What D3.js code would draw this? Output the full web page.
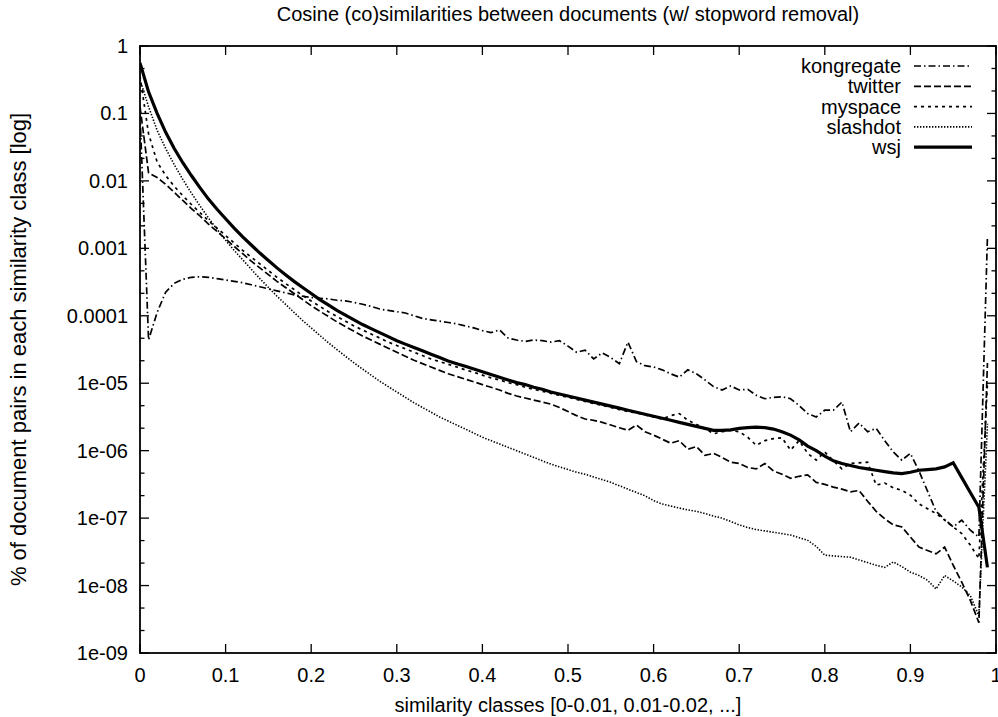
<!DOCTYPE html>
<html>
<head>
<meta charset="utf-8">
<script src="https://cdn.jsdelivr.net/npm/d3@7/dist/d3.min.js"></script>
<style>
  body { margin: 0; background: #fff; }
  svg text { font-family: "Liberation Sans", Arial, Helvetica, sans-serif; fill: #000; }
</style>
</head>
<body>
<svg id="chart" width="998" height="717"></svg>
<script>
// similarity class start values 0, 0.01, ... 0.99 (one class per 0.01)
var classes = d3.range(100).map(function (i) { return i / 100; });

// share of document pairs per similarity class
var kongregate = [0.1, 4.37e-5, 1.12e-4, 2.24e-4, 3.02e-4, 3.47e-4, 3.72e-4, 3.80e-4, 3.72e-4, 3.55e-4,
  3.39e-4, 3.24e-4, 3.09e-4, 2.88e-4, 2.69e-4, 2.51e-4, 2.34e-4, 2.19e-4, 2.04e-4, 1.95e-4,
  1.86e-4, 1.82e-4, 1.78e-4, 1.70e-4, 1.66e-4, 1.58e-4, 1.48e-4, 1.38e-4, 1.26e-4, 1.20e-4,
  1.15e-4, 1.10e-4, 1.00e-4, 9.12e-5, 8.71e-5, 8.32e-5, 7.94e-5, 7.59e-5, 7.08e-5, 6.61e-5,
  6.03e-5, 5.62e-5, 6.17e-5, 4.68e-5, 4.37e-5, 4.17e-5, 4.37e-5, 4.27e-5, 4.07e-5, 4.27e-5,
  3.55e-5, 2.88e-5, 3.09e-5, 2.29e-5, 2.82e-5, 2.40e-5, 1.95e-5, 4.07e-5, 2.09e-5, 1.82e-5,
  1.74e-5, 1.58e-5, 1.38e-5, 1.23e-5, 1.58e-5, 1.38e-5, 1.12e-5, 8.91e-6, 7.94e-6, 9.12e-6,
  7.94e-6, 8.13e-6, 6.61e-6, 5.89e-6, 6.17e-6, 6.31e-6, 5.89e-6, 4.68e-6, 3.55e-6, 3.16e-6,
  3.98e-6, 3.98e-6, 5.25e-6, 1.91e-6, 2.57e-6, 1.91e-6, 2.14e-6, 1.41e-6, 9.55e-7, 7.24e-7,
  9.12e-7, 5.01e-7, 2.51e-7, 1.26e-7, 9.55e-8, 7.41e-8, 9.33e-8, 6.61e-8, 5.25e-8, 1.48e-3];

var twitter = [0.126, 1.32e-2, 1.12e-2, 8.91e-3, 6.76e-3, 5.13e-3, 3.89e-3, 3.02e-3, 2.29e-3, 1.78e-3,
  1.38e-3, 1.07e-3, 8.32e-4, 6.46e-4, 5.13e-4, 4.07e-4, 3.24e-4, 2.63e-4, 2.14e-4, 1.74e-4,
  1.41e-4, 1.17e-4, 9.77e-5, 8.13e-5, 6.92e-5, 5.89e-5, 5.01e-5, 4.37e-5, 3.80e-5, 3.31e-5,
  2.88e-5, 2.51e-5, 2.19e-5, 1.95e-5, 1.74e-5, 1.55e-5, 1.38e-5, 1.26e-5, 1.15e-5, 1.05e-5,
  9.55e-6, 8.71e-6, 7.94e-6, 7.08e-6, 6.46e-6, 6.03e-6, 5.62e-6, 5.25e-6, 4.90e-6, 4.37e-6,
  3.80e-6, 3.31e-6, 2.95e-6, 2.82e-6, 2.63e-6, 2.40e-6, 2.19e-6, 2.00e-6, 2.40e-6, 1.91e-6,
  1.70e-6, 1.48e-6, 1.29e-6, 1.41e-6, 1.05e-6, 1.15e-6, 8.51e-7, 9.12e-7, 7.94e-7, 6.76e-7,
  6.46e-7, 5.62e-7, 5.37e-7, 6.46e-7, 5.01e-7, 4.47e-7, 3.89e-7, 4.17e-7, 4.37e-7, 3.39e-7,
  3.16e-7, 2.88e-7, 2.69e-7, 2.45e-7, 2.57e-7, 1.78e-7, 1.26e-7, 9.77e-8, 7.94e-8, 7.41e-8,
  5.25e-8, 3.72e-8, 3.31e-8, 2.95e-8, 3.72e-8, 2.00e-8, 1.12e-8, 6.03e-9, 2.82e-9, 2.00e-5];

var myspace = [0.355, 5.01e-2, 1.91e-2, 1.20e-2, 8.32e-3, 6.03e-3, 4.47e-3, 3.39e-3, 2.57e-3, 2.00e-3,
  1.55e-3, 1.20e-3, 9.33e-4, 7.41e-4, 5.89e-4, 4.68e-4, 3.72e-4, 3.02e-4, 2.45e-4, 2.00e-4,
  1.66e-4, 1.38e-4, 1.15e-4, 9.77e-5, 8.32e-5, 7.08e-5, 6.17e-5, 5.37e-5, 4.68e-5, 4.07e-5,
  3.63e-5, 3.24e-5, 2.88e-5, 2.57e-5, 2.29e-5, 2.09e-5, 1.91e-5, 1.74e-5, 1.58e-5, 1.45e-5,
  1.32e-5, 1.20e-5, 1.12e-5, 1.02e-5, 9.55e-6, 8.71e-6, 8.13e-6, 7.59e-6, 7.08e-6, 6.61e-6,
  6.17e-6, 5.75e-6, 5.37e-6, 5.01e-6, 4.68e-6, 4.37e-6, 4.07e-6, 3.80e-6, 3.63e-6, 3.39e-6,
  3.16e-6, 2.95e-6, 3.31e-6, 3.55e-6, 2.82e-6, 2.45e-6, 2.14e-6, 1.78e-6, 1.91e-6, 2.00e-6,
  1.91e-6, 1.58e-6, 1.20e-6, 1.41e-6, 1.51e-6, 1.55e-6, 1.02e-6, 1.41e-6, 9.12e-7, 7.24e-7,
  9.55e-7, 7.08e-7, 5.37e-7, 6.46e-7, 6.61e-7, 6.76e-7, 3.09e-7, 3.31e-7, 2.82e-7, 2.57e-7,
  2.19e-7, 1.62e-7, 1.38e-7, 1.17e-7, 9.33e-8, 7.41e-8, 5.89e-8, 3.98e-8, 2.51e-8, 1.00e-5];

var slashdot = [0.316, 0.126, 5.62e-2, 3.02e-2, 1.74e-2, 1.05e-2, 6.61e-3, 4.27e-3, 2.82e-3, 1.91e-3,
  1.32e-3, 9.33e-4, 6.76e-4, 4.90e-4, 3.55e-4, 2.63e-4, 1.95e-4, 1.48e-4, 1.12e-4, 8.51e-5,
  6.61e-5, 5.13e-5, 3.98e-5, 3.16e-5, 2.51e-5, 2.00e-5, 1.62e-5, 1.32e-5, 1.07e-5, 8.91e-6,
  7.41e-6, 6.17e-6, 5.13e-6, 4.37e-6, 3.72e-6, 3.16e-6, 2.75e-6, 2.40e-6, 2.09e-6, 1.82e-6,
  1.58e-6, 1.41e-6, 1.26e-6, 1.12e-6, 1.00e-6, 8.91e-7, 7.94e-7, 7.08e-7, 6.31e-7, 5.75e-7,
  5.25e-7, 4.79e-7, 4.47e-7, 4.07e-7, 3.72e-7, 3.39e-7, 3.02e-7, 2.69e-7, 2.40e-7, 2.14e-7,
  1.82e-7, 1.62e-7, 1.51e-7, 1.41e-7, 1.32e-7, 1.26e-7, 1.17e-7, 1.07e-7, 1.00e-7, 8.91e-8,
  7.94e-8, 7.24e-8, 6.76e-8, 6.46e-8, 6.17e-8, 5.89e-8, 5.62e-8, 5.13e-8, 4.68e-8, 3.80e-8,
  2.82e-8, 2.75e-8, 2.69e-8, 2.63e-8, 2.40e-8, 2.19e-8, 2.00e-8, 1.86e-8, 2.24e-8, 1.91e-8,
  1.58e-8, 1.41e-8, 1.20e-8, 8.91e-9, 1.41e-8, 1.17e-8, 9.55e-9, 7.08e-9, 3.55e-9, 2.51e-6];

var wsj = [0.562, 0.209, 0.1, 5.25e-2, 3.02e-2, 1.86e-2, 1.20e-2, 7.94e-3, 5.37e-3, 3.80e-3,
  2.75e-3, 2.00e-3, 1.48e-3, 1.12e-3, 8.51e-4, 6.61e-4, 5.13e-4, 4.07e-4, 3.24e-4, 2.63e-4,
  2.14e-4, 1.74e-4, 1.45e-4, 1.20e-4, 1.02e-4, 8.71e-5, 7.41e-5, 6.46e-5, 5.62e-5, 4.90e-5,
  4.27e-5, 3.80e-5, 3.39e-5, 3.02e-5, 2.69e-5, 2.40e-5, 2.14e-5, 1.95e-5, 1.78e-5, 1.62e-5,
  1.48e-5, 1.35e-5, 1.23e-5, 1.12e-5, 1.02e-5, 9.55e-6, 8.71e-6, 8.13e-6, 7.41e-6, 6.92e-6,
  6.46e-6, 6.03e-6, 5.62e-6, 5.25e-6, 4.90e-6, 4.57e-6, 4.27e-6, 3.98e-6, 3.72e-6, 3.47e-6,
  3.24e-6, 3.02e-6, 2.82e-6, 2.63e-6, 2.45e-6, 2.29e-6, 2.14e-6, 2.00e-6, 2.00e-6, 2.04e-6,
  2.14e-6, 2.19e-6, 2.24e-6, 2.19e-6, 2.09e-6, 1.91e-6, 1.70e-6, 1.45e-6, 1.17e-6, 1.00e-6,
  8.32e-7, 7.08e-7, 6.46e-7, 6.03e-7, 5.62e-7, 5.37e-7, 5.13e-7, 4.90e-7, 4.68e-7, 4.57e-7,
  4.79e-7, 5.13e-7, 5.25e-7, 5.37e-7, 5.75e-7, 6.61e-7, 3.98e-7, 2.40e-7, 1.45e-7, 1.86e-8];

var seriesNames = ["kongregate", "twitter", "myspace", "slashdot", "wsj"];
var seriesData = [kongregate, twitter, myspace, slashdot, wsj];

var xTicks = [0, 0.1, 0.2, 0.3, 0.4, 0.5, 0.6, 0.7, 0.8, 0.9, 1];
var xTickLabels = ["0", "0.1", "0.2", "0.3", "0.4", "0.5", "0.6", "0.7", "0.8", "0.9", "1"];
var yTicks = [1, 0.1, 0.01, 0.001, 0.0001, 1e-5, 1e-6, 1e-7, 1e-8, 1e-9];
var yTickLabels = ["1", "0.1", "0.01", "0.001", "0.0001", "1e-05", "1e-06", "1e-07", "1e-08", "1e-09"];

var titleText = "Cosine (co)similarities between documents (w/ stopword removal)";
var xLabelText = "similarity classes [0-0.01, 0.01-0.02, ...]";
var yLabelText = "% of document pairs in each similarity class [log]";

// gnuplot-like line styles, one per series
var styles = {
  kongregate: { dash: "7,3,1.5,3", width: 1.7 },
  twitter:    { dash: "7,3",       width: 1.7 },
  myspace:    { dash: "3,4",       width: 1.7 },
  slashdot:   { dash: "1.4,1.6",   width: 1.6 },
  wsj:        { dash: null,        width: 3.2 }
};

var margin = { top: 46, right: 2, bottom: 64, left: 140 };
var W = 998, H = 717;
var fontSize = "20px";

var x = d3.scaleLinear().domain([0, 1]).range([margin.left, W - margin.right]);
var y = d3.scaleLog().domain([1e-9, 1]).range([H - margin.bottom, margin.top]);

var svg = d3.select("#chart");

svg.append("defs").append("clipPath").attr("id", "plotclip")
  .append("rect")
  .attr("x", x(0)).attr("y", y(1))
  .attr("width", x(1) - x(0)).attr("height", y(1e-9) - y(1));

// ticks: major on all four sides (mirrored), minor on the y axes
var majorLen = 9, minorLen = 4.5;
var tickG = svg.append("g").attr("stroke", "#000").attr("stroke-width", 1.3);

xTicks.forEach(function (t) {
  tickG.append("line").attr("x1", x(t)).attr("x2", x(t)).attr("y1", y(1e-9)).attr("y2", y(1e-9) - majorLen);
  tickG.append("line").attr("x1", x(t)).attr("x2", x(t)).attr("y1", y(1)).attr("y2", y(1) + majorLen);
});

yTicks.forEach(function (t) {
  tickG.append("line").attr("x1", x(0)).attr("x2", x(0) + majorLen).attr("y1", y(t)).attr("y2", y(t));
  tickG.append("line").attr("x1", x(1)).attr("x2", x(1) - majorLen).attr("y1", y(t)).attr("y2", y(t));
  if (t > 1e-9) {
    // two minor tics per decade
    [1 / 3, 2 / 3].forEach(function (f) {
      var v = t * Math.pow(10, -f);
      tickG.append("line").attr("x1", x(0)).attr("x2", x(0) + minorLen).attr("y1", y(v)).attr("y2", y(v));
      tickG.append("line").attr("x1", x(1)).attr("x2", x(1) - minorLen).attr("y1", y(v)).attr("y2", y(v));
    });
  }
});

// tick labels
svg.append("g").selectAll("text").data(xTicks).enter().append("text")
  .attr("x", function (d) { return x(d); })
  .attr("y", 682)
  .attr("text-anchor", "middle")
  .style("font-size", fontSize)
  .text(function (d, i) { return xTickLabels[i]; });

svg.append("g").selectAll("text").data(yTicks).enter().append("text")
  .attr("x", 128)
  .attr("y", function (d) { return y(d); })
  .attr("dy", "0.35em")
  .attr("text-anchor", "end")
  .style("font-size", fontSize)
  .text(function (d, i) { return yTickLabels[i]; });

// series lines
var line = d3.line()
  .x(function (d, i) { return x(classes[i]); })
  .y(function (d) { return y(d); });

svg.append("g").attr("clip-path", "url(#plotclip)")
  .selectAll("path").data(seriesData).enter().append("path")
  .attr("d", function (d) { return line(d); })
  .attr("fill", "none")
  .attr("stroke", "#000")
  .attr("stroke-width", function (d, i) { return styles[seriesNames[i]].width; })
  .attr("stroke-dasharray", function (d, i) { return styles[seriesNames[i]].dash; })
  .attr("stroke-linejoin", "miter");

// frame
svg.append("rect")
  .attr("x", x(0)).attr("y", y(1))
  .attr("width", x(1) - x(0)).attr("height", y(1e-9) - y(1))
  .attr("fill", "none").attr("stroke", "#000").attr("stroke-width", 1.8);

// legend (top right, text right aligned, sample to the right)
var legend = svg.append("g");
seriesNames.forEach(function (name, i) {
  var ly = 66 + i * 20.3;
  legend.append("text")
    .attr("x", 901).attr("y", ly).attr("dy", "0.35em")
    .attr("text-anchor", "end")
    .style("font-size", fontSize)
    .text(name);
  legend.append("line")
    .attr("x1", 914).attr("x2", 972).attr("y1", ly).attr("y2", ly)
    .attr("stroke", "#000")
    .attr("stroke-width", styles[name].width)
    .attr("stroke-dasharray", styles[name].dash);
});

// titles
svg.append("text")
  .attr("x", (x(0) + x(1)) / 2).attr("y", 21)
  .attr("text-anchor", "middle")
  .style("font-size", fontSize)
  .text(titleText);

svg.append("text")
  .attr("x", (x(0) + x(1)) / 2).attr("y", 712)
  .attr("text-anchor", "middle")
  .style("font-size", fontSize)
  .text(xLabelText);

svg.append("text")
  .attr("transform", "translate(26," + ((y(1) + y(1e-9)) / 2) + ") rotate(-90)")
  .attr("text-anchor", "middle")
  .style("font-size", "22px")
  .text(yLabelText);
</script>
</body>
</html>
